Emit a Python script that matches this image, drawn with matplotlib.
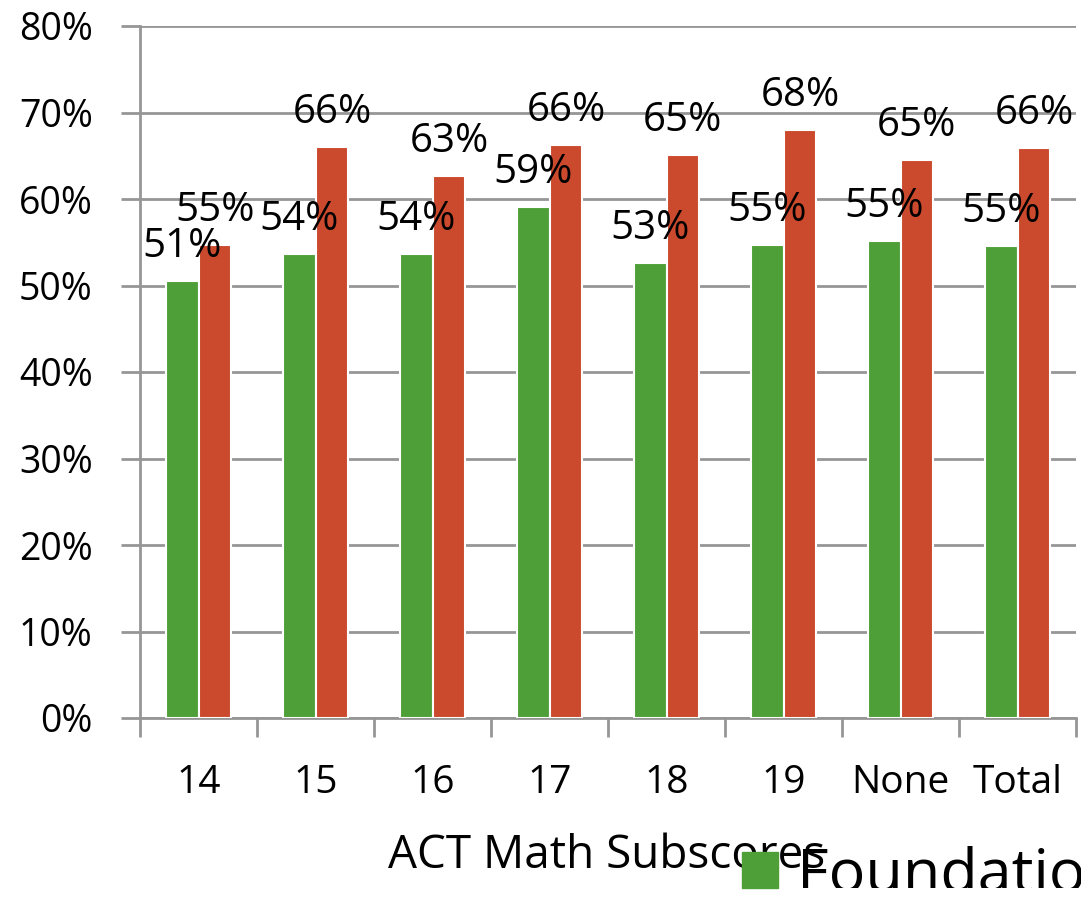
import matplotlib
matplotlib.use("Agg")
import matplotlib.pyplot as plt
from matplotlib.patches import Rectangle
import numpy as np

categories = ["14", "15", "16", "17", "18", "19", "None", "Total"]
foundation = [50.5, 53.6, 53.6, 59.1, 52.6, 54.7, 55.1, 54.6]
other = [54.7, 66.0, 62.7, 66.2, 65.1, 68.0, 64.5, 65.9]
foundation_labels = ["51%", "54%", "54%", "59%", "53%", "55%", "55%", "55%"]
other_labels = ["55%", "66%", "63%", "66%", "65%", "68%", "65%", "66%"]
yticks = [0, 10, 20, 30, 40, 50, 60, 70, 80]
ytick_labels = ["0%", "10%", "20%", "30%", "40%", "50%", "60%", "70%", "80%"]

plt.rcParams['font.family'] = ['Open Sans', 'DejaVu Sans']

green = "#4f9f38"
red = "#cb4a2e"
grid = "#969696"

fig = plt.figure(figsize=(10.81, 8.98), dpi=100)
ax = fig.add_axes([140/1081, 1-718/898, (1076-140)/1081, (718-26)/898])

x = np.arange(len(categories))
w = 0.28
b1 = ax.bar(x - w/2, foundation, width=w, color=green, edgecolor="white", linewidth=1.5, zorder=3)
b2 = ax.bar(x + w/2, other, width=w, color=red, edgecolor="white", linewidth=1.5, zorder=3)

for rect, lab in zip(b1, foundation_labels):
    ax.annotate(lab, (rect.get_x() + rect.get_width()/2, rect.get_height()),
                xytext=(0, 10), textcoords="offset points", ha="center", va="bottom",
                fontsize=29, zorder=5)
for rect, lab in zip(b2, other_labels):
    ax.annotate(lab, (rect.get_x() + rect.get_width()/2, rect.get_height()),
                xytext=(0, 10), textcoords="offset points", ha="center", va="bottom",
                fontsize=29, zorder=5)

ax.set_xlim(-0.5, len(categories) - 0.5)
ax.set_ylim(0, 80)
ax.set_yticks(yticks)
ax.set_yticklabels(ytick_labels, fontsize=27)
ax.yaxis.grid(True, color=grid, linewidth=2, zorder=0)
ax.set_axisbelow(True)

ax.set_xticks(x)
ax.set_xticklabels(categories, fontsize=28)
ax.tick_params(axis="x", length=0, pad=33)
ax.set_xticks(np.arange(len(categories) + 1) - 0.5, minor=True)
ax.tick_params(axis="x", which="minor", length=14, width=2, color=grid)
ax.tick_params(axis="y", length=14, width=2, color=grid, pad=20)

for s in ["top", "right"]:
    ax.spines[s].set_visible(False)
ax.spines["left"].set_color(grid)
ax.spines["left"].set_linewidth(2)
ax.spines["bottom"].set_color(grid)
ax.spines["bottom"].set_linewidth(2)

fig.text(607/1081, 1-868/898, "ACT Math Subscores", fontsize=33, ha="center", va="baseline")

# legend (cut off at figure edge, as in the reference)
fig.patches.append(Rectangle((742/1081, 1-888/898), 36/1081, 36/898,
                             transform=fig.transFigure, color=green, zorder=4))
t = fig.text(797/1081, 1-892/898, "Foundation", fontsize=44, ha="left", va="baseline")
clip = Rectangle((0, 1-888/898), 1, 888/898, transform=fig.transFigure)
t.set_clip_path(clip)

fig.savefig("out.png", dpi=100)
